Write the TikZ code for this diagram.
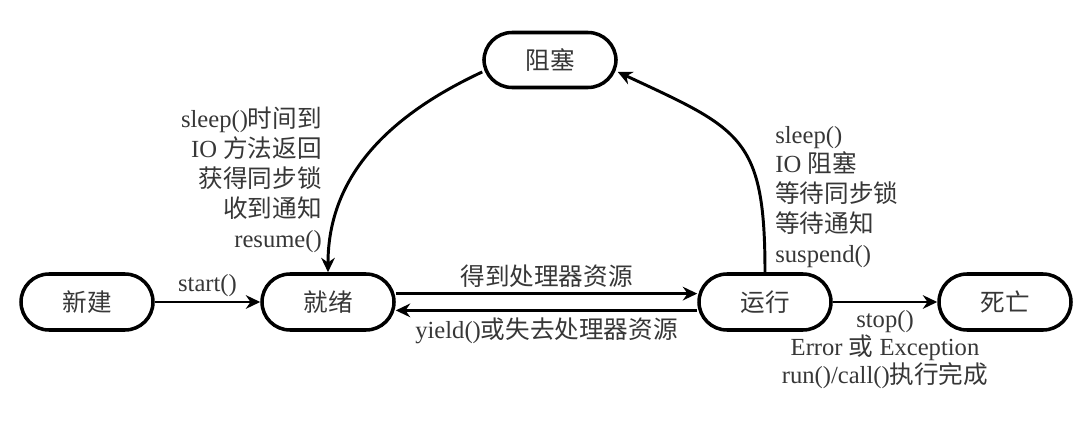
\documentclass[tikz,border=0pt]{standalone}
\usepackage{fontspec}
\setmainfont{Liberation Serif}
\newfontfamily\zhfont{Noto Sans CJK SC}
\usepackage{tikz}
\usetikzlibrary{arrows.meta,positioning}
\definecolor{txtgray}{RGB}{55,55,55}
\newcommand{\zh}[1]{{\zhfont #1}}

\begin{document}
\begin{tikzpicture}[>={Stealth[length=3.6mm,width=3.4mm]},
  font=\fontsize{17.5}{21.3}\selectfont,
  state/.style={draw,line width=2.5pt,rounded corners=0.7cm,minimum width=3.3cm,
    minimum height=1.4cm,text=txtgray,font=\fontsize{17.5}{21.3}\selectfont\zhfont},
  trans/.style={->,line width=2.1pt},
  lbl/.style={text=txtgray,inner sep=3pt}]
  \useasboundingbox (0,0) rectangle (26.875,10.5);
  % states
  \node[state] (new) at (2.175,2.95) {新建};
  \node[state] (ready) at (8.2,2.95) {就绪};
  \node[state,minimum height=1.375cm] (blocked) at (13.75,9.0) {阻塞};
  \node[state] (running) at (19.125,2.95) {运行};
  \node[state] (dead) at (25.125,2.95) {死亡};
  % transitions
  \draw[trans] (new) -- node[lbl,above] {start()} (ready);
  \draw[trans] ([yshift=0.21cm]ready.east) -- node[lbl,above] {\zh{得到处理器资源}} ([yshift=0.21cm]running.west);
  \draw[trans] ([yshift=-0.21cm]running.west) -- node[lbl,below=1pt] {yield()\zh{或失去处理器资源}} ([yshift=-0.21cm]ready.east);
  \draw[trans] (running) -- node[lbl,below=2pt,align=center,font=\fontsize{17.5}{20}\selectfont] {stop()\\Error \zh{或} Exception\\run()/call()\zh{执行完成}} (dead);
  \draw[trans] (running.north) to[out=90,in=-25,looseness=1.4] (blocked.-10);
  \draw[trans] (blocked.190) to[out=205,in=90] (ready.north);
  % reasons
  \node[lbl,anchor=east,align=right] (wakeup) at (8.156,6.0)
    {sleep()\zh{时间到}\\IO \zh{方法返回}\\\zh{获得同步锁}\\\zh{收到通知}\\resume()};
  \node[lbl,anchor=west,align=left] (block) at (19.27,5.575)
    {sleep()\\IO \zh{阻塞}\\\zh{等待同步锁}\\\zh{等待通知}\\suspend()};
\end{tikzpicture}
\end{document}
